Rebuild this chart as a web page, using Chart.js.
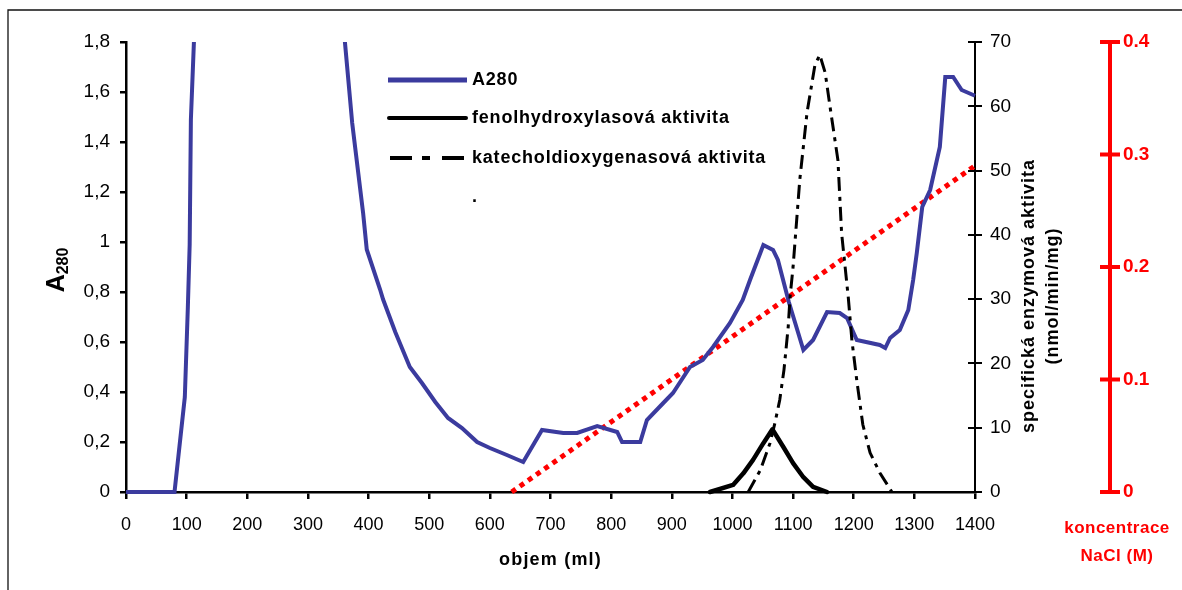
<!DOCTYPE html>
<html>
<head>
<meta charset="utf-8">
<title>A280 a enzymové aktivity</title>
<script src="https://cdn.jsdelivr.net/npm/chart.js@4/dist/chart.umd.min.js"></script>
<style>
  html, body { margin: 0; padding: 0; background: #fff; }
  canvas { display: block; }
</style>
</head>
<body>
<canvas id="graf" width="1182" height="590"></canvas>
<script>
// absorbance A280 (ml, A)
const a280Objem = [0, 80, 97, 102, 105, 107, 112, 125, 345, 361, 373, 391, 397, 419, 424, 444, 468, 488, 510, 531, 554, 579, 600, 628, 655,
  686, 721, 744, 777, 810, 818, 848, 859, 886, 902, 930, 951, 968, 996, 1017, 1029, 1051, 1067, 1075, 1093, 1117, 1133, 1156, 1177,
  1189, 1205, 1243, 1252, 1260, 1276, 1290, 1298, 1304, 1313, 1326, 1342, 1351, 1364, 1378, 1400];
const a280Hodnoty = [0, 0, 0.38, 0.74, 0.99, 1.49, 1.8, 2.6, 2.4, 1.8, 1.476, 1.116, 0.97, 0.81, 0.77, 0.64, 0.5, 0.436, 0.36, 0.296, 0.256, 0.2, 0.176, 0.148, 0.12,
  0.248, 0.236, 0.236, 0.264, 0.24, 0.2, 0.2, 0.288, 0.356, 0.396, 0.5, 0.528, 0.58, 0.676, 0.768, 0.848, 0.988, 0.968, 0.928, 0.76, 0.568, 0.608, 0.72, 0.716,
  0.696, 0.608, 0.588, 0.576, 0.616, 0.648, 0.728, 0.848, 0.956, 1.14, 1.208, 1.38, 1.66, 1.66, 1.608, 1.585];

// fenolhydroxylasová aktivita (nmol/min/mg)
const fenolObjem = [963, 1001, 1018, 1034, 1051, 1066, 1084, 1100, 1117, 1133, 1156];
const fenolAktivita = [0, 1.1, 2.9, 5.0, 7.6, 9.75, 7.0, 4.5, 2.3, 0.8, 0];

// katecholdioxygenasová aktivita (nmol/min/mg)
const katecholObjem = [1026, 1046, 1062, 1070, 1078, 1085, 1092, 1095, 1100, 1111, 1123, 1136, 1144, 1153, 1161, 1174, 1180, 1191, 1197, 1205, 1215, 1227, 1243, 1263];
const katecholAktivita = [0, 3.4, 7.6, 10.7, 14.3, 19, 25.7, 30.3, 35, 48.5, 59, 66.4, 68, 65.2, 59.9, 51.6, 40.3, 30.3, 23.6, 17.4, 10.5, 6.1, 3.0, 0];

// gradient NaCl (M)
const naclObjem = [636, 1400];
const naclKoncentrace = [0, 0.29];

// popisky os
const objemPopisky = ['0', '100', '200', '300', '400', '500', '600', '700', '800', '900', '1000', '1100', '1200', '1300', '1400'];
const a280Popisky = ['0', '0,2', '0,4', '0,6', '0,8', '1', '1,2', '1,4', '1,6', '1,8'];
const aktivitaPopisky = ['0', '10', '20', '30', '40', '50', '60', '70'];
const naclPopisky = ['0', '0.1', '0.2', '0.3', '0.4'];

const FONT = "'Liberation Sans', Arial, sans-serif";
const MODRA = '#3b3b9e';
const CERVENA = '#ff0000';

const body = (xs, ys) => xs.map((x, i) => ({ x: x, y: ys[i] }));

const pozadi = {
  id: 'pozadi',
  beforeDraw(chart) {
    const c = chart.ctx;
    c.save();
    c.fillStyle = '#fff';
    c.fillRect(0, 0, chart.width, chart.height);
    c.strokeStyle = '#111';
    c.lineWidth = 1.3;
    c.beginPath();
    c.moveTo(8, chart.height);
    c.lineTo(8, 10);
    c.lineTo(chart.width, 10);
    c.stroke();
    c.restore();
  }
};

const popisy = {
  id: 'popisy',
  afterDraw(chart) {
    const c = chart.ctx;
    const area = chart.chartArea;
    const y2 = chart.scales.y2;
    const nacl = chart.scales.nacl;
    c.save();

    // vnitřní čárky pravé osy
    c.strokeStyle = '#000';
    c.lineWidth = 2;
    y2.ticks.forEach(t => {
      const py = Math.round(y2.getPixelForValue(t.value));
      c.beginPath();
      c.moveTo(area.right - 7, py);
      c.lineTo(area.right, py);
      c.stroke();
    });

    // název osy x
    c.fillStyle = '#000';
    c.font = 'bold 18px ' + FONT;
    c.letterSpacing = '1.2px';
    c.textAlign = 'center';
    c.textBaseline = 'middle';
    c.fillText('objem (ml)', (area.left + area.right) / 2, 560);

    // název levé osy A280
    c.save();
    c.translate(55, 270);
    c.rotate(-Math.PI / 2);
    c.letterSpacing = '0px';
    c.textAlign = 'left';
    c.textBaseline = 'alphabetic';
    c.font = 'bold 25px ' + FONT;
    const wA = c.measureText('A').width;
    c.font = 'bold 16px ' + FONT;
    const wSub = c.measureText('280').width;
    const x0 = -(wA + wSub) / 2;
    c.font = 'bold 25px ' + FONT;
    c.fillText('A', x0, 9);
    c.font = 'bold 16px ' + FONT;
    c.fillText('280', x0 + wA, 13);
    c.restore();

    // název pravé osy
    c.save();
    c.translate(1029, 296);
    c.rotate(-Math.PI / 2);
    c.font = 'bold 18px ' + FONT;
    c.letterSpacing = '1px';
    c.textAlign = 'center';
    c.textBaseline = 'middle';
    c.fillText('specifická enzymová aktivita', 0, 0);
    c.fillText('(nmol/min/mg)', 0, 24);
    c.restore();

    // osa koncentrace NaCl
    const ax = 1110;
    const top = nacl.getPixelForValue(0.4);
    const bottom = nacl.getPixelForValue(0);
    c.strokeStyle = CERVENA;
    c.fillStyle = CERVENA;
    c.lineWidth = 4;
    c.beginPath();
    c.moveTo(ax, top - 2);
    c.lineTo(ax, bottom + 2);
    c.stroke();
    c.font = 'bold 19px ' + FONT;
    c.letterSpacing = '0px';
    c.textAlign = 'left';
    c.textBaseline = 'middle';
    naclPopisky.forEach((txt, i) => {
      const py = nacl.getPixelForValue(i * 0.1);
      c.beginPath();
      c.moveTo(ax - 10, py);
      c.lineTo(ax + 10, py);
      c.stroke();
      c.fillText(txt, ax + 13, py);
    });
    c.font = 'bold 17px ' + FONT;
    c.letterSpacing = '0.5px';
    c.textAlign = 'center';
    c.fillText('koncentrace', 1117, 528);
    c.fillText('NaCl (M)', 1117, 556);

    // legenda
    const lx = 388, lw = 79, tx = 472;
    c.textAlign = 'left';
    c.fillStyle = '#000';
    c.font = 'bold 18px ' + FONT;
    c.letterSpacing = '0.8px';
    c.lineCap = 'butt';

    c.strokeStyle = MODRA;
    c.lineWidth = 5;
    c.beginPath(); c.moveTo(lx, 80); c.lineTo(lx + lw, 80); c.stroke();
    c.fillText('A280', tx, 80);

    c.strokeStyle = '#000';
    c.lineWidth = 4;
    c.lineCap = 'round';
    c.beginPath(); c.moveTo(lx + 1, 118); c.lineTo(lx + lw - 1, 118); c.stroke();
    c.fillText('fenolhydroxylasová aktivita', tx, 118);

    c.lineCap = 'butt';
    c.lineWidth = 4;
    c.setLineDash([22, 10, 8, 12]);
    c.beginPath(); c.moveTo(lx + 2, 158); c.lineTo(lx + lw, 158); c.stroke();
    c.setLineDash([]);
    c.fillText('katecholdioxygenasová aktivita', tx, 158);

    c.fillText('.', tx, 197);
    c.restore();
  }
};

new Chart(document.getElementById('graf'), {
  type: 'line',
  data: {
    datasets: [
      {
        label: 'koncentrace NaCl',
        data: body(naclObjem, naclKoncentrace),
        yAxisID: 'nacl',
        borderColor: CERVENA,
        borderWidth: 5,
        borderDash: [5, 5],
        borderCapStyle: 'butt',
        clip: 4,
        order: 4
      },
      {
        label: 'A280',
        data: body(a280Objem, a280Hodnoty),
        yAxisID: 'y',
        borderColor: MODRA,
        borderWidth: 4,
        clip: { left: 2, top: 0, right: 2, bottom: 3 },
        order: 3
      },
      {
        label: 'katecholdioxygenasová aktivita',
        data: body(katecholObjem, katecholAktivita),
        yAxisID: 'y2',
        borderColor: '#000',
        borderWidth: 3,
        borderDash: [14, 6, 4, 6],
        borderCapStyle: 'butt',
        clip: 3,
        order: 2
      },
      {
        label: 'fenolhydroxylasová aktivita',
        data: body(fenolObjem, fenolAktivita),
        yAxisID: 'y2',
        borderColor: '#000',
        borderWidth: 4.5,
        borderJoinStyle: 'round',
        borderCapStyle: 'round',
        clip: 3,
        order: 1
      }
    ]
  },
  options: {
    responsive: false,
    animation: false,
    events: [],
    layout: { padding: { top: 42, left: 0, right: 0, bottom: 0 } },
    elements: { point: { radius: 0 }, line: { tension: 0, fill: false } },
    plugins: { legend: { display: false }, tooltip: { enabled: false } },
    scales: {
      x: {
        type: 'linear',
        min: 0,
        max: 1400,
        afterFit(s) { s.height = 98; },
        border: { color: '#000', width: 2.5 },
        grid: { drawOnChartArea: false, color: '#000', lineWidth: 2.5, tickLength: 7 },
        ticks: {
          stepSize: 100,
          color: '#000',
          font: { family: FONT, size: 18 },
          padding: 15,
          maxRotation: 0,
          callback: (v, i) => objemPopisky[i]
        }
      },
      y: {
        position: 'left',
        min: 0,
        max: 1.8,
        afterFit(s) { s.width = 126; },
        border: { color: '#000', width: 2.5 },
        grid: { drawOnChartArea: false, color: '#000', lineWidth: 2.5, tickLength: 6 },
        ticks: {
          stepSize: 0.2,
          color: '#000',
          font: { family: FONT, size: 19 },
          padding: 10,
          callback: (v, i) => a280Popisky[i]
        }
      },
      y2: {
        position: 'right',
        min: 0,
        max: 70,
        afterFit(s) { s.width = 207; },
        border: { color: '#000', width: 2 },
        grid: { drawOnChartArea: false, color: '#000', lineWidth: 2, tickLength: 7 },
        ticks: {
          stepSize: 10,
          color: '#000',
          font: { family: FONT, size: 19 },
          padding: 8,
          callback: (v, i) => aktivitaPopisky[i]
        }
      },
      nacl: {
        display: false,
        position: 'right',
        min: 0,
        max: 0.4
      }
    }
  },
  plugins: [pozadi, popisy]
});
</script>
</body>
</html>
